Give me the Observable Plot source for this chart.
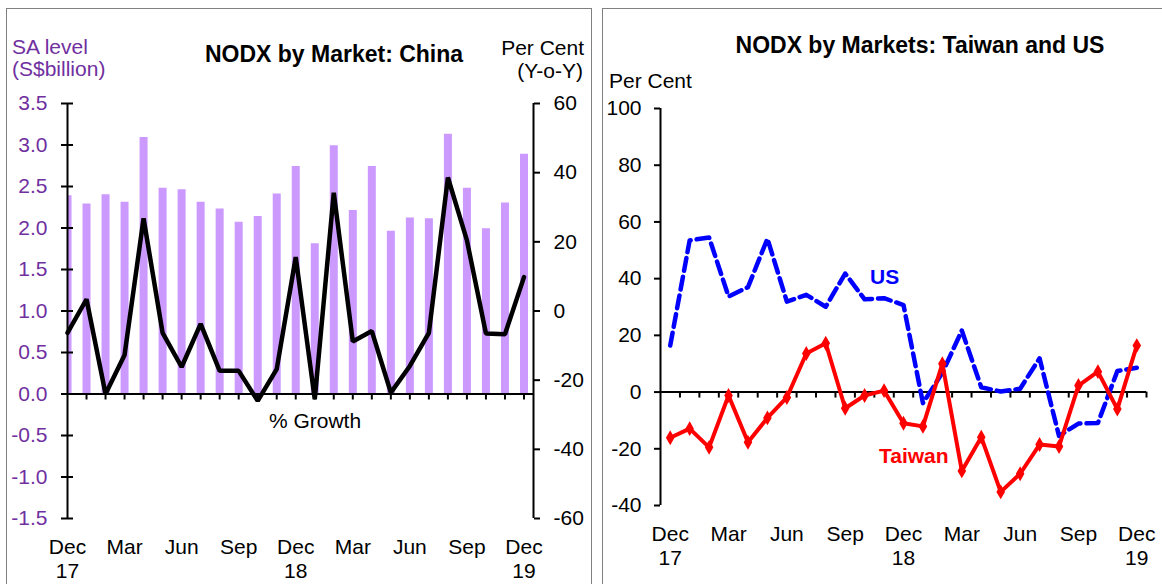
<!DOCTYPE html>
<html><head><meta charset="utf-8">
<script src="https://cdn.jsdelivr.net/npm/d3@7"></script>
<script src="https://cdn.jsdelivr.net/npm/@observablehq/plot@0.6"></script>
<style>
html,body{margin:0;padding:0;background:#fff;overflow:hidden;}
#wrap{position:relative;width:1162px;height:584px;overflow:hidden;font-family:"Liberation Sans",Arial,sans-serif;background:#fff;}
.box{position:absolute;border:1.5px solid #808080;}
.t{position:absolute;white-space:nowrap;line-height:20px;font-size:21px;color:#000;}
.b{font-weight:bold;}
#left,#right{position:absolute;top:0;}
</style></head><body>
<div id="wrap">
  <div class="box" style="left:6px;top:8px;width:584px;height:620px"></div>
  <div class="box" style="left:602px;top:8px;width:620px;height:620px"></div>
  <div id="left" style="left:0"></div>
  <div id="right" style="left:597px"></div>
  <div class="t" style="left:12px;top:37px;color:#7030A0">SA level</div>
  <div class="t" style="left:12px;top:59px;color:#7030A0">(S$billion)</div>
  <div class="t b" style="left:334px;top:44px;font-size:23px;transform:translateX(-50%)">NODX by Market: China</div>
  <div class="t" style="right:578px;top:38px">Per Cent</div>
  <div class="t" style="right:579px;top:61px">(Y-o-Y)</div>
  <div class="t" style="left:315px;top:411px;transform:translateX(-50%)">% Growth</div>
  <div class="t b" style="left:920px;top:35px;font-size:23px;transform:translateX(-50%)">NODX by Markets: Taiwan and US</div>
  <div class="t" style="left:609px;top:71px">Per Cent</div>
  <div class="t b" style="left:870px;top:267px;color:#0000FF">US</div>
  <div class="t b" style="left:879px;top:446px;color:#FF0000">Taiwan</div>
</div>
<script>
// ---- data ----
const months = ["Dec 17","Jan 18","Feb 18","Mar 18","Apr 18","May 18","Jun 18","Jul 18","Aug 18","Sep 18","Oct 18","Nov 18",
  "Dec 18","Jan 19","Feb 19","Mar 19","Apr 19","May 19","Jun 19","Jul 19","Aug 19","Sep 19","Oct 19","Nov 19","Dec 19"];
const tickIdx = [0,3,6,9,12,15,18,21,24];
const tickLabels = ["Dec\n17","Mar","Jun","Sep","Dec\n18","Mar","Jun","Sep","Dec\n19"];
const chinaLevel = [2.39,2.29,2.40,2.31,3.09,2.48,2.46,2.31,2.23,2.07,2.14,2.41,2.74,1.81,2.99,2.21,2.74,1.96,2.12,2.11,3.13,2.48,1.99,2.30,2.89];
const chinaGrowth = [-6.3,3.4,-24,-12.7,26.8,-6.3,-16.2,-3.7,-17.3,-17.3,-26,-16.8,15.6,-25.5,34.2,-8.8,-5.8,-23.6,-15.9,-6.3,38.6,20.4,-6.5,-6.7,9.8];
const taiwan = [-16.1,-12.9,-19.5,-1.2,-17.7,-9.1,-1.9,13.6,17.2,-5.7,-1.2,0.5,-11,-12.1,10,-27.8,-15.9,-35.2,-28.8,-18.5,-19.2,2.3,7.2,-6,16.4];
const us = [16.4,53.5,54.5,33.7,37,54.1,31.9,34.3,30.1,41.8,32.7,33.1,30.7,-3.9,6.8,21.7,1.7,0.2,1.2,11.9,-15.5,-11.1,-10.9,7.4,8.6];
const levelTicks = [-1.5,-1,-0.5,0,0.5,1,1.5,2,2.5,3,3.5];
const growthTicks = [-60,-40,-20,0,20,40,60];
const pctTicks = [-40,-20,0,20,40,60,80,100];

const FONT = "Liberation Sans, Arial, sans-serif";
const PURPLE = "#7030A0";

// ---- left panel: China ----
{
  const W = 597, H = 584, m = {top:103, right:64, bottom:66, left:67};
  const xDom = [0, 24.5], levelDom = [-1.5, 3.5], growthDom = [-60, 60];
  const toLevel = g => levelDom[0] + (g - growthDom[0]) / (growthDom[1] - growthDom[0]) * (levelDom[1] - levelDom[0]);
  const fromLevel = v => growthDom[0] + (v - levelDom[0]) / (levelDom[1] - levelDom[0]) * (growthDom[1] - growthDom[0]);
  const y0off = -(H - m.bottom - (m.top + (levelDom[1] - 0) / (levelDom[1] - levelDom[0]) * (H - m.top - m.bottom)));
  const rows = months.map((mo, i) => ({i, mo, level: chinaLevel[i], growth: chinaGrowth[i]}));
  const fmt = new Map(tickIdx.map((d, k) => [d, tickLabels[k]]));
  const chart = Plot.plot({
    width: W, height: H,
    marginTop: m.top, marginRight: m.right, marginBottom: m.bottom, marginLeft: m.left,
    x: {domain: xDom},
    y: {domain: levelDom},
    style: {fontFamily: FONT, fontSize: "21px", color: "black", background: "transparent", overflow: "visible"},
    marks: [
      Plot.ruleX(rows, {x: "i", y1: 0, y2: "level", stroke: "#CC99FF", strokeWidth: 8, clip: true}),
      Plot.ruleY([0], {stroke: "black", strokeWidth: 2}),
      Plot.axisX(d3.range(1, 25), {tickSize: 6, strokeWidth: 2, tickFormat: () => "", dy: y0off, label: null}),
      Plot.ruleX([xDom[0]], {stroke: "black", strokeWidth: 2}),
      Plot.ruleX([xDom[1]], {stroke: "black", strokeWidth: 2}),
      Plot.axisY(levelTicks, {anchor: "left", tickSize: 6, tickPadding: 14, strokeWidth: 2, stroke: "black", fill: PURPLE, fontSize: 21, tickFormat: d => d.toFixed(1), label: null}),
      Plot.axisY(levelTicks, {anchor: "left", tickSize: 6, dx: 6, strokeWidth: 2, stroke: "black", tickFormat: () => "", label: null}),
      Plot.axisY(growthTicks.map(toLevel), {anchor: "right", tickSize: 6, tickPadding: 14, strokeWidth: 2, fontSize: 21, tickFormat: v => String(Math.round(fromLevel(v))), label: null}),
      Plot.axisX(tickIdx, {tickSize: 0, tickPadding: 18, fontSize: 21, lineHeight: 1.15, tickFormat: d => fmt.get(d), label: null}),
      Plot.line(rows, {x: "i", y: d => toLevel(d.growth), stroke: "black", strokeWidth: 4.5, strokeLinejoin: "miter"})
    ]
  });
  document.getElementById("left").appendChild(chart);
}

// ---- right panel: Taiwan and US ----
{
  const W = 565, H = 584, m = {top:108, right:16, bottom:79, left:63};
  const xDom = [-0.5, 24.5], yDom = [-40, 100];
  const y0off = -(H - m.bottom - (m.top + (yDom[1] - 0) / (yDom[1] - yDom[0]) * (H - m.top - m.bottom)));
  const rows = months.map((mo, i) => ({i, mo, taiwan: taiwan[i], us: us[i]}));
  const fmt = new Map(tickIdx.map((d, k) => [d, tickLabels[k]]));
  const chart = Plot.plot({
    width: W, height: H,
    marginTop: m.top, marginRight: m.right, marginBottom: m.bottom, marginLeft: m.left,
    x: {domain: xDom},
    y: {domain: yDom},
    style: {fontFamily: FONT, fontSize: "21px", color: "black", background: "transparent", overflow: "visible"},
    marks: [
      Plot.ruleY([0], {stroke: "black", strokeWidth: 2}),
      Plot.axisX(d3.range(0.5, 25, 1), {tickSize: 6, strokeWidth: 2, tickFormat: () => "", dy: y0off, label: null}),
      Plot.ruleX([xDom[0]], {stroke: "black", strokeWidth: 2}),
      Plot.axisY(pctTicks, {anchor: "left", tickSize: 6, tickPadding: 13, strokeWidth: 2, fontSize: 21, tickFormat: d => String(d), label: null}),
      Plot.axisX(tickIdx, {tickSize: 0, tickPadding: 18, fontSize: 21, lineHeight: 1.15, tickFormat: d => fmt.get(d), label: null}),
      Plot.line(rows, {x: "i", y: "us", stroke: "#0000FF", strokeWidth: 4.5, strokeDasharray: "13,6"}),
      Plot.line(rows, {x: "i", y: "taiwan", stroke: "#FF0000", strokeWidth: 4}),
      Plot.dot(rows, {x: "i", y: "taiwan", symbol: "diamond", r: 3.6, fill: "#FF0000", stroke: "#FF0000"})
    ]
  });
  document.getElementById("right").appendChild(chart);
}
</script>
</body></html>
